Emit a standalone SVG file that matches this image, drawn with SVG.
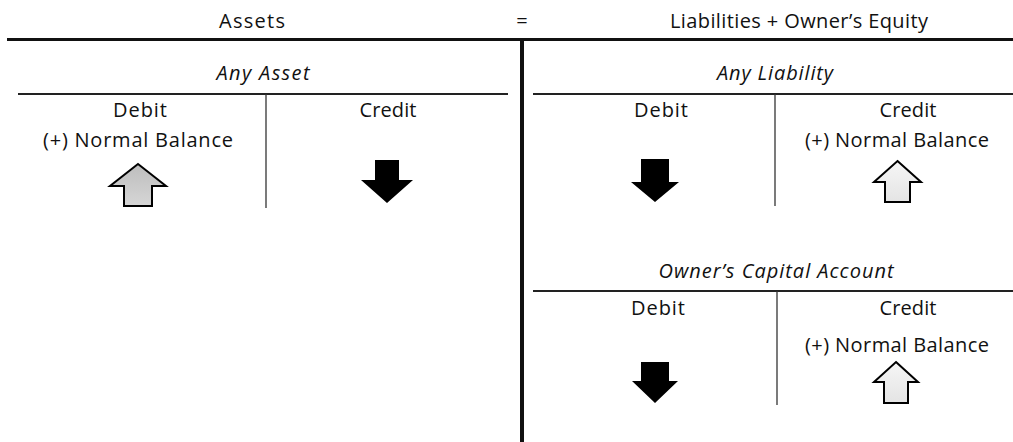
<svg xmlns="http://www.w3.org/2000/svg" width="1013" height="442" viewBox="0 0 1013 442">
<style>
  .t{font-family:"Open Sans","Liberation Sans",sans-serif;font-size:20px;fill:#111;text-anchor:middle}
  .ti{font-style:italic}
  .rule{stroke:#111;fill:none}
  .thin{stroke:#333;stroke-width:1.3;fill:none}
  .tl{stroke:#222;stroke-width:1.8;fill:none}
  .up{stroke:#000;stroke-width:2;stroke-linejoin:miter}
  .down{fill:#000}
</style>
<defs>
  <linearGradient id="g1" x1="0" y1="0" x2="0" y2="1">
    <stop offset="0" stop-color="#bdbdbd"/><stop offset="1" stop-color="#d6d6d6"/>
  </linearGradient>
  <linearGradient id="g2" x1="0" y1="0" x2="0" y2="1">
    <stop offset="0" stop-color="#f6f6f6"/><stop offset="1" stop-color="#e4e4e4"/>
  </linearGradient>
</defs>
<rect width="1013" height="442" fill="#fff"/>

<g id="header">
  <text class="t" x="252" y="28" textLength="66" lengthAdjust="spacing">Assets</text>
  <text class="t" x="522" y="28">=</text>
  <text class="t" x="799" y="28" textLength="258" lengthAdjust="spacing">Liabilities + Owner’s Equity</text>
</g>

<g id="connectors">
  <line class="rule" x1="7" y1="39.5" x2="1013" y2="39.5" stroke-width="3"/>
  <line class="rule" x1="522" y1="39" x2="522" y2="442" stroke-width="4"/>
</g>

<g id="any-asset">
  <text class="t ti" x="263" y="80" textLength="93" lengthAdjust="spacing">Any Asset</text>
  <line class="tl" x1="18" y1="94" x2="508" y2="94"/>
  <line class="thin" x1="266" y1="94" x2="266" y2="208"/>
  <text class="t" x="140" y="117" textLength="54" lengthAdjust="spacing">Debit</text>
  <text class="t" x="388" y="117" textLength="57" lengthAdjust="spacing">Credit</text>
  <text class="t" x="138" y="147" textLength="190" lengthAdjust="spacing">(+) Normal Balance</text>
  <path class="up" fill="url(#g1)" d="M138,164 L166,186 L152,186 L152,206 L124,206 L124,186 L110,186 Z"/>
  <path class="down" d="M375,160 L399,160 L399,180 L413,180 L387,203 L361,180 L375,180 Z"/>
</g>

<g id="any-liability">
  <text class="t ti" x="775" y="80" textLength="116" lengthAdjust="spacing">Any Liability</text>
  <line class="tl" x1="533" y1="94" x2="1013" y2="94"/>
  <line class="thin" x1="775" y1="94" x2="775" y2="206"/>
  <text class="t" x="661" y="117" textLength="54" lengthAdjust="spacing">Debit</text>
  <text class="t" x="908" y="117" textLength="57" lengthAdjust="spacing">Credit</text>
  <text class="t" x="897" y="147" textLength="184" lengthAdjust="spacing">(+) Normal Balance</text>
  <path class="down" d="M641,159 L669,159 L669,182 L679,182 L655,202 L631,182 L641,182 Z"/>
  <path class="up" fill="url(#g2)" d="M897.5,161 L921,182 L910,182 L910,202 L885,202 L885,182 L874,182 Z"/>
</g>

<g id="owners-capital">
  <text class="t ti" x="776" y="278" textLength="235" lengthAdjust="spacing">Owner’s Capital Account</text>
  <line class="tl" x1="533" y1="291" x2="1013" y2="291"/>
  <line class="thin" x1="777" y1="291" x2="777" y2="405"/>
  <text class="t" x="658" y="315" textLength="54" lengthAdjust="spacing">Debit</text>
  <text class="t" x="908" y="315" textLength="57" lengthAdjust="spacing">Credit</text>
  <text class="t" x="897" y="352" textLength="184" lengthAdjust="spacing">(+) Normal Balance</text>
  <path class="down" d="M641,362 L669,362 L669,381 L678,381 L655,403 L632,381 L641,381 Z"/>
  <path class="up" fill="url(#g2)" d="M896,362 L918,382 L908,382 L908,403 L884,403 L884,382 L874,382 Z"/>
</g>
</svg>
